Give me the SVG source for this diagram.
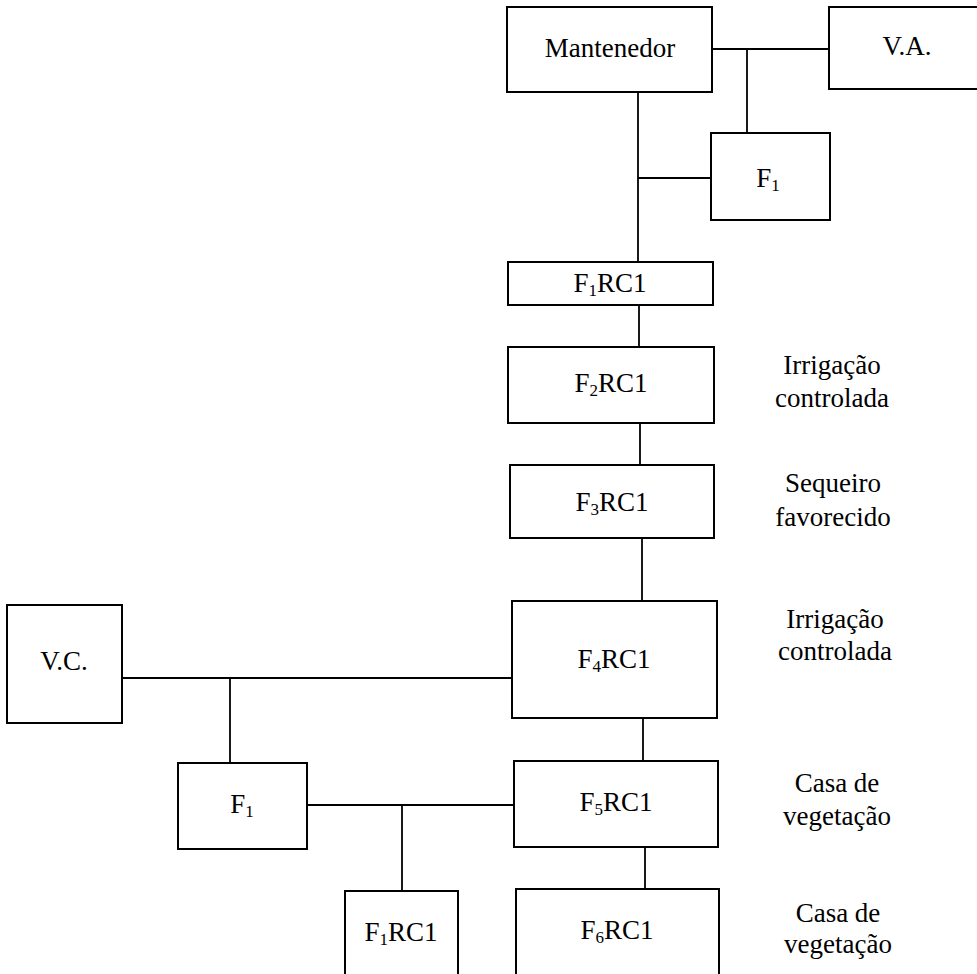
<svg xmlns="http://www.w3.org/2000/svg" width="977" height="974" viewBox="0 0 977 974">
<style>
.box{fill:#fff;stroke:#000;stroke-width:2}
.ln{stroke:#000;stroke-width:1.8;fill:none}
text{font-family:'Liberation Serif','Tinos','DejaVu Serif',serif;font-size:27px;fill:#000}
.c{text-anchor:middle}
.sub{font-size:17px}
</style>
<rect width="977" height="974" fill="#fff"/>
<g id="connectors">
<path class="ln" d="M712 49H829"/>
<path class="ln" d="M747 49V133"/>
<path class="ln" d="M638 92V262"/>
<path class="ln" d="M638 178H711"/>
<path class="ln" d="M639 305V347"/>
<path class="ln" d="M640 423V465"/>
<path class="ln" d="M642 538V601"/>
<path class="ln" d="M643 718V761"/>
<path class="ln" d="M645 847V889"/>
<path class="ln" d="M122 678H512"/>
<path class="ln" d="M230 678V763"/>
<path class="ln" d="M307 805H514"/>
<path class="ln" d="M402 805V891"/>
</g>
<g id="mantenedor"><rect class="box" x="507" y="7" width="205" height="85"/><text class="c" x="610" y="57" font-family="Liberation Serif, serif">Mantenedor</text></g>
<g id="va"><rect class="box" x="829" y="7" width="170" height="82"/><text class="c" x="907" y="55">V.A.</text></g>
<g id="f1-top"><rect class="box" x="711" y="133" width="119" height="87"/><text class="c" x="768" y="187">F<tspan class="sub" dy="4">1</tspan></text></g>
<g id="f1rc1-top"><rect class="box" x="508" y="262" width="205" height="43"/><text class="c" x="610" y="292">F<tspan class="sub" dy="4">1</tspan><tspan dy="-4">RC1</tspan></text></g>
<g id="f2rc1"><rect class="box" x="508" y="347" width="206" height="76"/><text class="c" x="611" y="392">F<tspan class="sub" dy="4">2</tspan><tspan dy="-4">RC1</tspan></text></g>
<g id="f3rc1"><rect class="box" x="510" y="465" width="204" height="73"/><text class="c" x="612" y="511">F<tspan class="sub" dy="4">3</tspan><tspan dy="-4">RC1</tspan></text></g>
<g id="f4rc1"><rect class="box" x="512" y="601" width="205" height="117"/><text class="c" x="614" y="668">F<tspan class="sub" dy="4">4</tspan><tspan dy="-4">RC1</tspan></text></g>
<g id="f5rc1"><rect class="box" x="514" y="761" width="204" height="86"/><text class="c" x="616" y="811">F<tspan class="sub" dy="4">5</tspan><tspan dy="-4">RC1</tspan></text></g>
<g id="f6rc1"><rect class="box" x="516" y="889" width="203" height="100"/><text class="c" x="617" y="939">F<tspan class="sub" dy="4">6</tspan><tspan dy="-4">RC1</tspan></text></g>
<g id="vc"><rect class="box" x="7" y="605" width="115" height="118"/><text class="c" x="64" y="670">V.C.</text></g>
<g id="f1-low"><rect class="box" x="178" y="763" width="129" height="86"/><text class="c" x="242" y="813">F<tspan class="sub" dy="4">1</tspan></text></g>
<g id="f1rc1-low"><rect class="box" x="345" y="891" width="113" height="100"/><text class="c" x="401" y="941">F<tspan class="sub" dy="4">1</tspan><tspan dy="-4">RC1</tspan></text></g>
<g id="labels">
<text class="c" x="832" y="374">Irrigação</text>
<text class="c" x="832" y="407">controlada</text>
<text class="c" x="833" y="492">Sequeiro</text>
<text class="c" x="833" y="526">favorecido</text>
<text class="c" x="835" y="628">Irrigação</text>
<text class="c" x="835" y="660">controlada</text>
<text class="c" x="837" y="792">Casa de</text>
<text class="c" x="837" y="825">vegetação</text>
<text class="c" x="838" y="922">Casa de</text>
<text class="c" x="838" y="953">vegetação</text>
</g>
</svg>
